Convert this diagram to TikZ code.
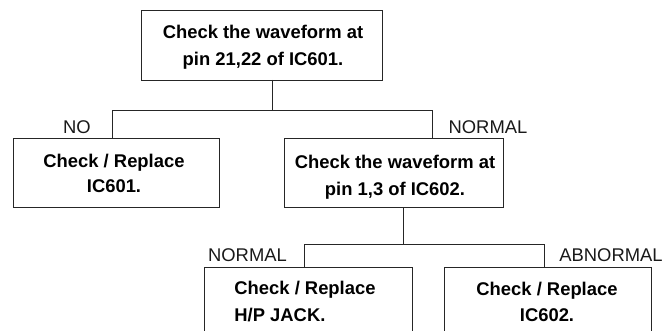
\documentclass[tikz,border=0pt]{standalone}
\usepackage{fontspec}
\setmainfont{Liberation Sans}
\begin{document}
\begin{tikzpicture}[x=1pt,y=-1pt,
  box/.style={draw=black!85,line width=0.8pt,inner sep=0pt,outer sep=0pt,anchor=north west},
  boxtext/.style={font=\bfseries\fontsize{18.4}{27}\selectfont,align=center,inner sep=0pt},
  lbl/.style={font=\fontsize{18.4}{22}\selectfont,inner sep=0pt,text=black!90},
  conn/.style={draw=black!85,line width=0.8pt}]
\useasboundingbox (0,0) rectangle (663,331);
\clip (0,0) rectangle (663,331);
% boxes
\node[box,minimum width=241pt,minimum height=70pt] (top) at (141,10) {};
\node[box,minimum width=206pt,minimum height=69pt] (left) at (13,138) {};
\node[box,minimum width=219pt,minimum height=69pt] (mid) at (284.5,138) {};
\node[box,minimum width=208pt,minimum height=90pt] (bl) at (204,267) {};
\node[box,minimum width=207pt,minimum height=90pt] (br) at (444,267) {};
% texts
\node[boxtext] (topt) at (263,47) {Check the waveform at\\pin 21,22 of IC601.};
\node[boxtext,font=\bfseries\fontsize{18.4}{25}\selectfont] (leftt) at (114,173.5) {Check / Replace\\IC601.};
\node[boxtext] (midt) at (395,177) {Check the waveform at\\pin 1,3 of IC602.};
\node[boxtext,align=left] (blt) at (305,302) {Check / Replace\\H/P JACK.};
\node[boxtext,font=\bfseries\fontsize{18.4}{26}\selectfont] (brt) at (547,301.5) {Check / Replace\\IC602.};
% labels
\node[lbl] (lno) at (77,127) {NO};
\node[lbl] (lnormal1) at (488,127) {NORMAL};
\node[lbl] (lnormal2) at (247.5,255) {NORMAL};
\node[lbl] (labnormal) at (611,255) {ABNORMAL};
% junctions
\coordinate (j1) at (272,110);
\coordinate (j1L) at (112,110);
\coordinate (j1R) at (432,110);
\coordinate (j2) at (403,244);
\coordinate (j2L) at (304,244);
\coordinate (j2R) at (544,244);
% connectors
\draw[conn] (top.south -| j1) -- (j1);
\draw[conn] (j1L |- left.north) -- (j1L) -- (j1R) -- (j1R |- mid.north);
\draw[conn] (mid.south -| j2) -- (j2);
\draw[conn] (j2L |- bl.north) -- (j2L) -- (j2R) -- (j2R |- br.north);
\end{tikzpicture}
\end{document}
